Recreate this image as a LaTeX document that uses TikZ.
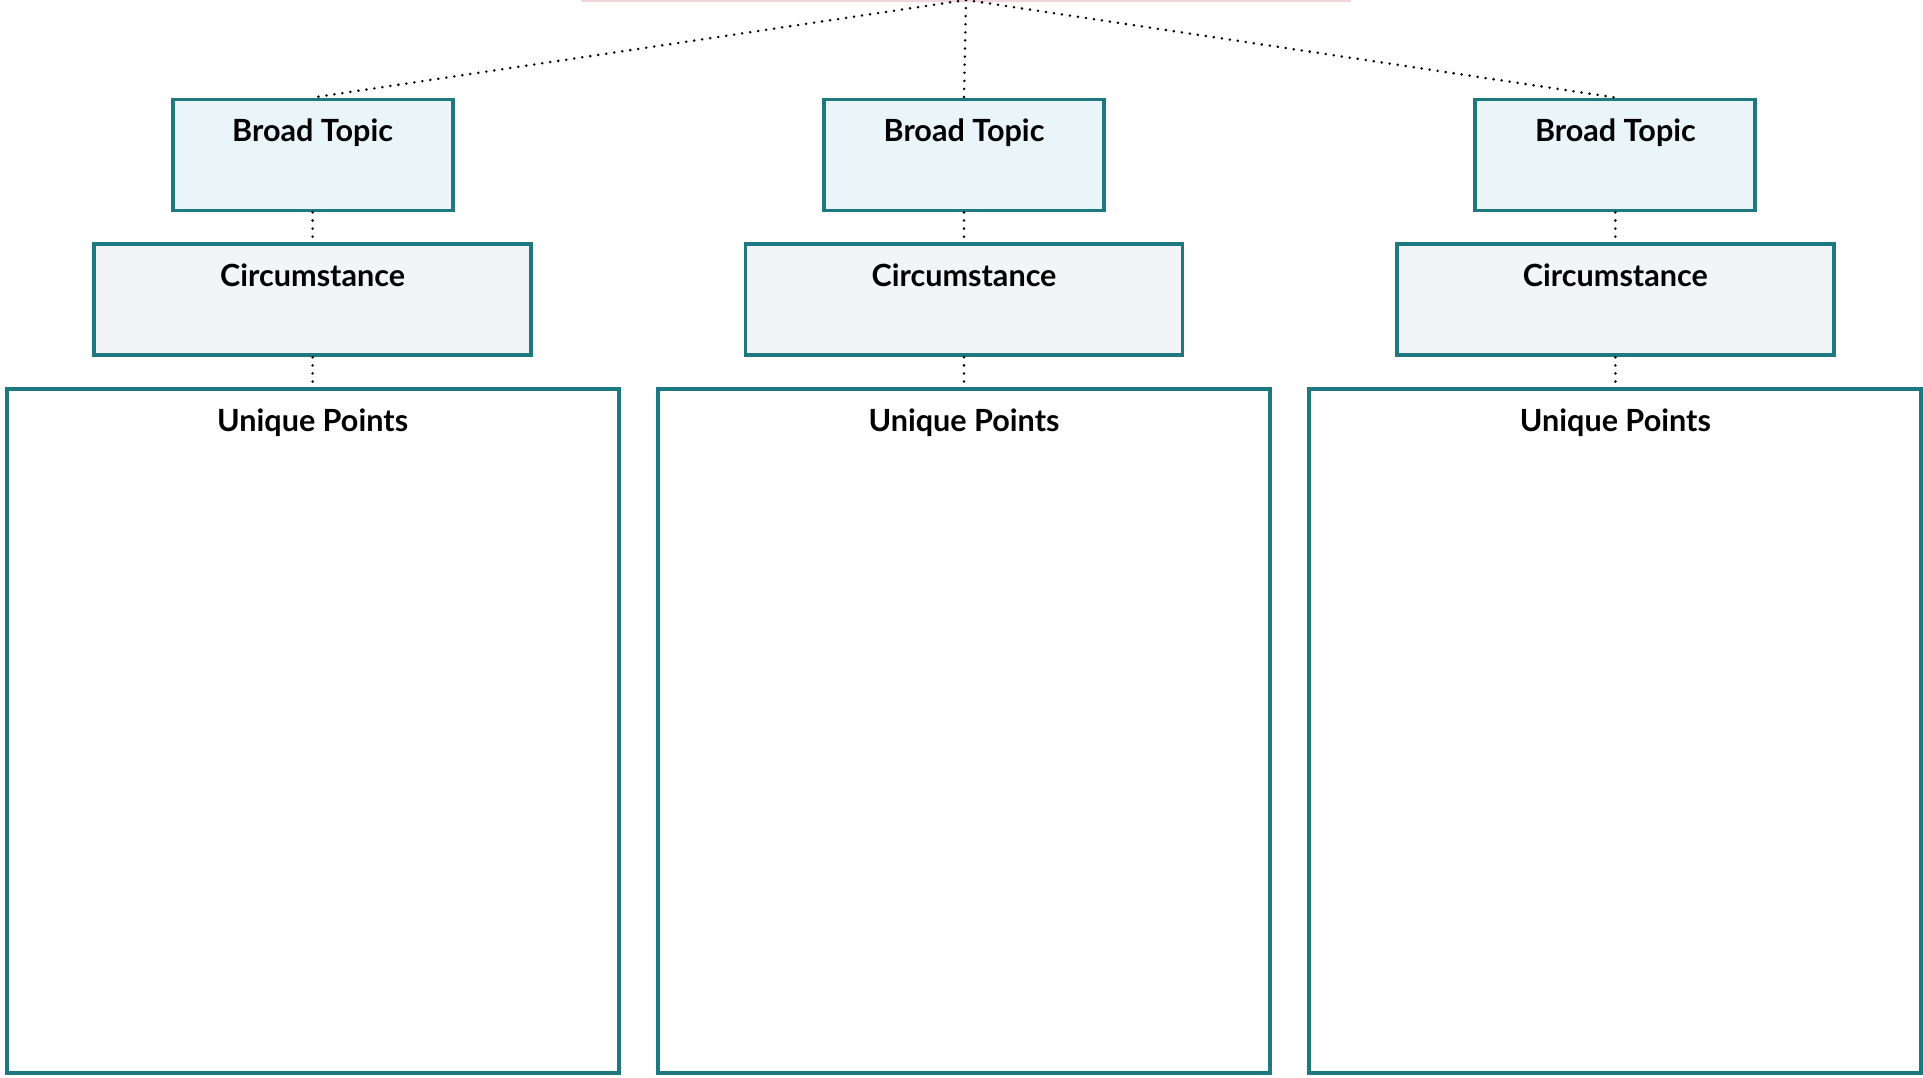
\documentclass[tikz,border=0pt]{standalone}
\usepackage{fontspec}
\setmainfont{Lato}
\usetikzlibrary{positioning}
\definecolor{edgeteal}{RGB}{30,120,128}
\definecolor{topicblue}{RGB}{234,245,250}
\definecolor{circgray}{RGB}{243,244,246}
\definecolor{rootpink}{RGB}{240,214,218}

\begin{document}
\begin{tikzpicture}[
  node distance=0.30cm,
  topic/.style={draw=edgeteal, line width=1.1pt, fill=topicblue, minimum width=2.80cm, minimum height=1.11cm, inner sep=0pt},
  circ/.style={draw=edgeteal, line width=1.1pt, fill=circgray, minimum width=4.37cm, minimum height=1.11cm, inner sep=0pt},
  points/.style={draw=edgeteal, line width=1.1pt, fill=white, minimum width=6.12cm, minimum height=6.84cm, inner sep=0pt},
  head/.style={anchor=north, inner sep=0pt, yshift=-0.21cm, font=\bfseries\fontsize{8.7}{10}\selectfont},
  link/.style={line width=0.8pt, dash pattern=on 0pt off 2.3pt, line cap=round}
]
\useasboundingbox (0,0) rectangle (19.23,-10.78);

% root box, cut off by the top edge
\node[draw=rootpink, line width=1.4pt, outer sep=0pt, minimum width=7.66cm, minimum height=1cm, anchor=south] (root) at (9.66,0) {};

\node[topic, label={[head]north:Broad Topic}] (top2) at (9.64,-1.55) {};
\node[topic, label={[head]north:Broad Topic}, left=3.675cm of top2] (top1) {};
\node[topic, label={[head]north:Broad Topic}, right=3.675cm of top2] (top3) {};

\foreach \i in {1,2,3} {
  \node[circ, label={[head]north:Circumstance}, below=of top\i] (circ\i) {};
  \node[points, label={[head]north:Unique Points}, below=of circ\i] (pts\i) {};
  \draw[link] (root.south) -- (top\i.north);
  \draw[link] (top\i) -- (circ\i);
  \draw[link] (circ\i) -- (pts\i);
}
\end{tikzpicture}
\end{document}
